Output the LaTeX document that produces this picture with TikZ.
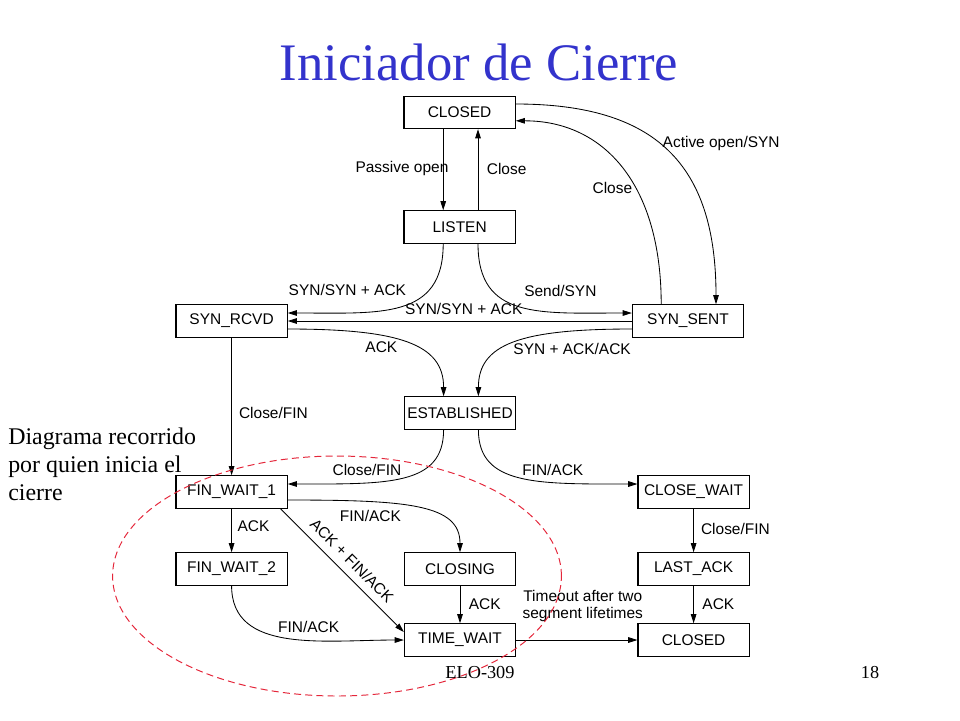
\documentclass[tikz,border=0pt]{standalone}
\usepackage{fontspec}
\setmainfont{Liberation Serif}
\newfontfamily\arialfont{Liberation Sans}
\usepackage{tikz}
\usetikzlibrary{arrows.meta}
\definecolor{titleblue}{RGB}{51,51,204}
\definecolor{loopred}{RGB}{228,38,58}

\begin{document}
\begin{tikzpicture}[
  tcpbox/.style={draw, line width=0.8pt, minimum width=2.78cm, minimum height=0.81cm, inner sep=0pt, font=\arialfont\fontsize{11}{12}\selectfont},
  lbl/.style={font=\arialfont\fontsize{11}{11.5}\selectfont, inner sep=1pt},
  trans/.style={-{Triangle[length=2.3mm,width=1.4mm]}, line width=0.6pt}
]
\useasboundingbox (0,0) rectangle (24,-18);

% Title
\node[anchor=base, text=titleblue, font=\fontsize{37.5}{40}\selectfont] (title) at (11.975,-2.0) {Iniciador de Cierre};

% States
\node[tcpbox] (closedtop) at (11.49,-2.81) {CLOSED};
\node[tcpbox] (listen) at (11.49,-5.675) {LISTEN};
\node[tcpbox] (synrcvd) at (5.79,-8.025) {SYN\_RCVD};
\node[tcpbox] (synsent) at (17.2,-8.025) {SYN\_SENT};
\node[tcpbox] (estab) at (11.5,-10.325) {ESTABLISHED};
\node[tcpbox] (finwaitone) at (5.79,-12.3) {FIN\_WAIT\_1};
\node[tcpbox] (closewait) at (17.34,-12.3) {CLOSE\_WAIT};
\node[tcpbox] (finwaittwo) at (5.79,-14.225) {FIN\_WAIT\_2};
\node[tcpbox] (closing) at (11.5,-14.225) {CLOSING};
\node[tcpbox] (lastack) at (17.34,-14.225) {LAST\_ACK};
\node[tcpbox] (timewait) at (11.5,-16) {TIME\_WAIT};
\node[tcpbox] (closedbot) at (17.34,-16) {CLOSED};

% Open / close (top)
\draw[trans] ([xshift=-4.1mm]closedtop.south) -- ([xshift=-4.1mm]listen.north) node[lbl, midway, left=-5pt, yshift=0.3mm] {Passive open};
\draw[trans] ([xshift=4.6mm]listen.north) -- ([xshift=4.6mm]closedtop.south) node[lbl, midway, right=5pt, yshift=0.3mm] {Close};
\draw[trans] ([yshift=2.1mm]closedtop.east) .. controls +(3.5,0) and +(0,3.5) .. ([xshift=7mm]synsent.north) node[lbl, pos=0.45, right=2pt, yshift=-0.4mm] {Active open/SYN};
\draw[trans] ([xshift=-6.7mm]synsent.north) .. controls +(0,3.0) and +(2.2,0) .. ([yshift=-2.1mm]closedtop.east) node[lbl, pos=0.4, left=1pt] {Close};

% Handshake
\draw[trans] ([xshift=-4.1mm]listen.south) .. controls +(0,-1.9) and +(2.3,0) .. ([yshift=2mm]synrcvd.east) node[lbl, pos=0.45, anchor=south east, yshift=1.8mm] {SYN/SYN + ACK};
\draw[trans] ([xshift=4.6mm]listen.south) .. controls +(0,-1.9) and +(-2.3,0) .. ([yshift=2mm]synsent.west) node[lbl, pos=0.5, anchor=south west, xshift=0.5mm, yshift=2.2mm] {Send/SYN};
\draw[trans] (synsent.west) -- (synrcvd.east) node[lbl, midway, above=3pt, xshift=1mm] {SYN/SYN + ACK};
\draw[trans] ([yshift=-2mm]synrcvd.east) .. controls +(2.8,0) and +(0,1.3) .. ([xshift=-4.1mm]estab.north) node[lbl, pos=0.35, below, yshift=-1.2mm] {ACK};
\draw[trans] ([yshift=-2mm]synsent.west) .. controls +(-2.8,0) and +(0,1.3) .. ([xshift=4.6mm]estab.north) node[lbl, pos=0.45, anchor=north west, xshift=-2.3mm, yshift=-0.2mm] {SYN + ACK/ACK};

% Leaving ESTABLISHED
\draw[trans] (synrcvd.south) -- (finwaitone.north) node[lbl, midway, right=4pt, yshift=-1.5mm] {Close/FIN};
\draw[trans] ([xshift=-4.1mm]estab.south) .. controls +(0,-1.4) and +(2.5,0) .. ([yshift=2mm]finwaitone.east) node[lbl, pos=0.5, anchor=south east] {Close/FIN};
\draw[trans] ([xshift=4.6mm]estab.south) .. controls +(0,-1.4) and +(-2.5,0) .. ([yshift=2mm]closewait.west) node[lbl, pos=0.5, anchor=south west] {FIN/ACK};

% Active close
\draw[trans] ([yshift=-2mm]finwaitone.east) .. controls +(3.0,0) and +(0,1.2) .. (closing.north) node[lbl, pos=0.27, below, yshift=-1.6mm] {FIN/ACK};
\draw[trans] (finwaitone.south) -- (finwaittwo.north) node[lbl, midway, right=3pt, yshift=1.2mm] {ACK};
\draw[trans] ([xshift=-1.8mm]finwaitone.south east) -- ([yshift=2mm]timewait.west) node[lbl, midway, above=4.5pt, sloped] {ACK + FIN/ACK};
\draw[trans] (finwaittwo.south) .. controls +(0,-1.7) and +(-2.0,0) .. (timewait.west) node[lbl, pos=0.6, above, yshift=1.5mm] {FIN/ACK};
\draw[trans] (closing.south) -- (timewait.north) node[lbl, midway, right=5pt, yshift=0.2mm] {ACK};
\draw[trans] (timewait.east) -- (closedbot.west) node[lbl, midway, above=12pt, xshift=1.5mm, align=center] {Timeout after two\\segment lifetimes};

% Passive close
\draw[trans] (closewait.south) -- (lastack.north) node[lbl, midway, right=4pt, yshift=0.5mm] {Close/FIN};
\draw[trans] (lastack.south) -- (closedbot.north) node[lbl, midway, right=5pt, yshift=0mm] {ACK};

% Note and dashed loop
\node[anchor=north west, align=left, inner sep=0pt, font=\fontsize{17}{19.8}\selectfont] (nota) at (0.2,-10.7) {Diagrama recorrido\\por quien inicia el\\cierre};
\draw[loopred, dash pattern=on 5pt off 3pt, line width=0.7pt] (8.425,-14.4) ellipse [x radius=5.61cm, y radius=3.0cm];

% Footer
\node[anchor=base, font=\fontsize{13}{15}\selectfont] (pie) at (12.0,-16.95) {ELO-309};
\node[anchor=base, font=\fontsize{13}{15}\selectfont] (pagina) at (21.75,-16.95) {18};

\end{tikzpicture}
\end{document}
